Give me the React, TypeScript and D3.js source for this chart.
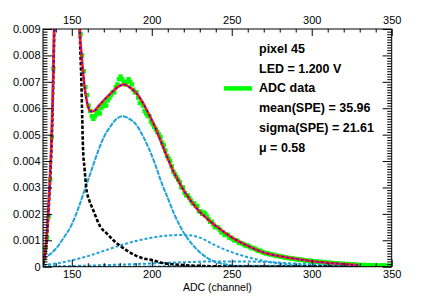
import React, { useEffect, useRef } from "react";
import * as d3 from "d3";

const W = 436, H = 297;
const frame = { left: 43, right: 391.7, top: 29, bottom: 266.7 };

// ADC histogram, 1 channel per bin, first bin starts at channel 132
const binStart = 132;
const adcData = [
  0.0003, 0.0007, 0.0011, 0.0019, 0.0033, 0.0049, 0.0075, 0.012, 0.018, 0.026,
  0.035, 0.044, 0.050, 0.054, 0.055, 0.052, 0.046, 0.038, 0.030, 0.022,
  0.016, 0.011, 0.0096, 0.0088, 0.0080, 0.0074, 0.0068, 0.0065, 0.0061, 0.0059,
  0.0057, 0.0056, 0.0057, 0.0058, 0.0059, 0.0058, 0.0060, 0.0061, 0.0062, 0.0061,
  0.0063, 0.0064, 0.0065, 0.0066, 0.0066, 0.0068, 0.0069, 0.0071, 0.0072, 0.0071,
  0.0070, 0.0069, 0.0070, 0.0071, 0.0070, 0.0069, 0.0067, 0.0066, 0.0066, 0.0064,
  0.0062, 0.0062, 0.0061, 0.0059, 0.0058, 0.0057, 0.0057, 0.0055, 0.0054, 0.0053,
  0.0052, 0.0051, 0.0050, 0.0049, 0.0047, 0.0046, 0.0044, 0.0042, 0.0041, 0.0040,
  0.0038, 0.0036, 0.0035, 0.0034, 0.0033, 0.0032, 0.0030, 0.0030, 0.0028, 0.0027,
  0.0027, 0.0026, 0.0025, 0.0024, 0.0024, 0.0023, 0.0023, 0.0021, 0.0021, 0.0020,
  0.00205, 0.0020, 0.0019, 0.0018, 0.0017, 0.0017, 0.0016, 0.0015, 0.0015, 0.00148,
  0.0014, 0.0013, 0.0013, 0.0012, 0.00122, 0.0012, 0.0011, 0.0011, 0.00105, 0.0010,
  0.0010, 0.00098, 0.0009, 0.0009, 0.00088, 0.00084, 0.0008, 0.00081, 0.00078, 0.00074,
  0.0007, 0.00071, 0.00068, 0.00064, 0.0006, 0.00061, 0.00058, 0.00054, 0.00052, 0.0005,
  0.00051, 0.00048, 0.00046, 0.00045, 0.00044, 0.00042, 0.0004, 0.00041, 0.00038, 0.00038,
  0.00036, 0.00035, 0.00034, 0.00033, 0.00032, 0.0003, 0.00031, 0.00029, 0.00028, 0.00027,
  0.00026, 0.00027, 0.00025, 0.00024, 0.00023, 0.00022, 0.00023, 0.00021, 0.0002, 0.0002,
  0.00019, 0.00019, 0.00018, 0.00017, 0.00018, 0.00016, 0.00016, 0.00015, 0.00015, 0.00014,
  0.00014, 0.00013, 0.00013, 0.00012, 0.00012, 0.00011, 0.00011, 0.0001, 0.0001, 0.0001,
  0.00009, 0.00009, 0.00008, 0.00008, 0.00008, 0.00007, 0.00007, 0.00006, 0.00006, 0.00005,
  0.00007, 0.00004, 0.00006, 0.00005, 0.00004, 0.00006, 0.00003, 0.00005, 0.00004, 0.00005,
  0.00003, 0.00004, 0.00005, 0.00003, 0.00004, 0.00003, 0.00004, 0.00003,
];

// fit curves: [channel, value]
const totalFit: [number, number][] = [
  [132, 0.0002], [133, 0.0004], [134, 0.0009], [135, 0.0018], [136, 0.0029], [137, 0.0043],
  [138, 0.0062], [139, 0.0092], [140, 0.0135], [147, 0.06], [154, 0.0125], [155, 0.009],
  [156, 0.0081], [157, 0.0074], [158, 0.0068], [159, 0.0064], [160, 0.0061], [162, 0.00588],
  [164, 0.0059], [167, 0.0061], [170, 0.0063], [175, 0.0066], [180, 0.00685], [183, 0.0069],
  [186, 0.0068], [190, 0.0066], [194, 0.00625], [198, 0.0058], [202, 0.0053], [206, 0.0047],
  [210, 0.0041], [214, 0.00355], [218, 0.0031], [222, 0.0027], [226, 0.00237], [230, 0.00208],
  [235, 0.0018], [241, 0.0015], [251, 0.00107], [261, 0.00076], [272, 0.0005], [282, 0.00038],
  [293, 0.00027], [303, 0.00019], [313, 0.00013], [320, 0.0001], [329, 0.00006],
];
const pedestal: [number, number][] = [
  [132, 0.0001], [133, 0.0003], [134, 0.0008], [135, 0.0016], [136, 0.0027], [137, 0.004],
  [138, 0.0059], [139, 0.0088], [140, 0.013], [147, 0.06], [154, 0.013], [155, 0.009],
  [156, 0.007], [156.5, 0.0057], [157, 0.0045], [158, 0.0037], [159, 0.003], [161, 0.0025],
  [163, 0.0022], [168, 0.0015], [172, 0.00125], [176, 0.001], [180, 0.0008], [184, 0.00063],
  [190, 0.00042], [195, 0.00031], [201, 0.00024], [206, 0.00015], [212, 0.0001], [220, 0.00006],
  [230, 0.00003], [245, 0.00001], [329, 0],
];
const pe1: [number, number][] = [
  [132, 0.0003], [136, 0.00045], [140, 0.00068], [145, 0.0011], [150, 0.0016], [154, 0.0022],
  [158, 0.0029], [162, 0.0036], [166, 0.0043], [170, 0.0049], [174, 0.0053], [178, 0.0056],
  [182, 0.0057], [186, 0.0056], [190, 0.0054], [194, 0.005], [198, 0.0045], [202, 0.0039],
  [206, 0.0032], [210, 0.0026], [214, 0.002], [218, 0.0015], [222, 0.0011], [226, 0.0008],
  [230, 0.00055], [235, 0.00032], [240, 0.00018], [245, 0.0001], [250, 0.00005], [260, 0.00001],
  [275, 0], [329, 0],
];
const pe2: [number, number][] = [
  [132, 0.00006], [140, 0.00012], [150, 0.00024], [160, 0.0004], [170, 0.0006], [180, 0.0008],
  [190, 0.00097], [200, 0.0011], [210, 0.00118], [218, 0.0012], [225, 0.00118], [230, 0.0011],
  [240, 0.0008], [250, 0.00055], [260, 0.00036], [270, 0.00022], [280, 0.00012], [290, 0.00006],
  [300, 0.00003], [310, 0.00001], [329, 0],
];
const pe3: [number, number][] = [
  [132, 0.00001], [160, 0.00004], [190, 0.0001], [220, 0.00017], [240, 0.0002], [255, 0.0002],
  [270, 0.00018], [290, 0.00012], [310, 0.00007], [329, 0.00004],
];
const pe4: [number, number][] = [
  [132, 0], [200, 0.00001], [250, 0.00003], [290, 0.00004], [329, 0.00003],
];

const xMajor = [150, 200, 250, 300, 350];
const yMajor = [0, 0.001, 0.002, 0.003, 0.004, 0.005, 0.006, 0.007, 0.008, 0.009];
const legendLines = ["pixel 45", "LED = 1.200 V", "ADC data", "mean(SPE) = 35.96", "sigma(SPE) = 21.61", "\u03bc = 0.58"];

const font = "Liberation Sans, Arial, sans-serif";
const lightBlue = "#1ca2d8";

const draw = (node: SVGSVGElement | null) => {
  if (!node) return;
  const svg = d3.select(node);
  svg.selectAll("*").remove();

  const x = d3.scaleLinear().domain([132, 350]).range([frame.left, frame.right]);
  const y = d3.scaleLinear().domain([0, 0.009]).range([frame.bottom, frame.top]);

  svg.append("rect").attr("width", W).attr("height", H).attr("fill", "#fff");

  svg.append("clipPath").attr("id", "plotclip")
    .append("rect")
    .attr("x", frame.left).attr("y", frame.top)
    .attr("width", frame.right - frame.left).attr("height", frame.bottom - frame.top);

  const plot = svg.append("g").attr("clip-path", "url(#plotclip)");

  // data markers (ROOT skips markers above the frame)
  const pts = adcData.map((v, i) => ({ c: binStart + i + 0.5, v })).filter(d => d.v <= 0.009);
  plot.selectAll("rect.pt").data(pts).enter().append("rect")
    .attr("class", "pt")
    .attr("x", d => x(d.c) - 2.2).attr("y", d => y(d.v) - 2.2)
    .attr("width", 4.4).attr("height", 4.4)
    .attr("fill", "#00ff00");

  const line = d3.line<[number, number]>()
    .x(d => x(d[0])).y(d => y(d[1]))
    .curve(d3.curveMonotoneX);

  const curve = (data: [number, number][], color: string, width: number, dash: string | null) => {
    const p = plot.append("path").attr("d", line(data))
      .attr("fill", "none").attr("stroke", color).attr("stroke-width", width);
    if (dash) p.attr("stroke-dasharray", dash);
  };

  curve(pe4, lightBlue, 2, "3,2");
  curve(pe3, lightBlue, 2, "3,2");
  curve(pe2, lightBlue, 2, "3,2");
  curve(pe1, lightBlue, 2, "5,1");
  curve(pedestal, "#000", 2.6, "3.5,1.8");
  curve(totalFit, "#ff1a1a", 2.6, null);
  curve(totalFit, "#1010ff", 1.4, "2,3");

  // axes, ROOT style ticks inside the frame
  const axisFont = (g: d3.Selection<SVGGElement, unknown, null, undefined>) => {
    g.attr("font-family", font).attr("font-size", 11);
    g.select(".domain").remove();
    g.selectAll("line").attr("stroke", "#000");
    g.selectAll("text").attr("fill", "#000");
  };
  const xMinor = d3.range(140, 351, 10).filter(v => !xMajor.includes(v));
  const yMinor = d3.range(0, 91).map(i => i * 0.0001).filter((_, i) => i % 10 !== 0);

  svg.append("g").attr("transform", `translate(0,${frame.bottom})`)
    .call(d3.axisBottom(x).tickValues(xMajor).tickSize(-7).tickPadding(4).tickFormat(d3.format("d")))
    .call(axisFont);
  svg.append("g").attr("transform", `translate(0,${frame.bottom})`)
    .call(d3.axisBottom(x).tickValues(xMinor).tickSize(-3.5).tickFormat(() => ""))
    .call(axisFont);
  svg.append("g").attr("transform", `translate(0,${frame.top})`)
    .call(d3.axisTop(x).tickValues(xMajor).tickSize(-7).tickPadding(5).tickFormat(d3.format("d")))
    .call(axisFont);
  svg.append("g").attr("transform", `translate(0,${frame.top})`)
    .call(d3.axisTop(x).tickValues(xMinor).tickSize(-3.5).tickFormat(() => ""))
    .call(axisFont);

  const yFmt = (d: d3.NumberValue) => (+d === 0 ? "0" : d3.format(".3f")(+d));
  svg.append("g").attr("transform", `translate(${frame.left},0)`)
    .call(d3.axisLeft(y).tickValues(yMajor).tickSize(-9).tickPadding(2.5).tickFormat(yFmt))
    .call(axisFont);
  svg.append("g").attr("transform", `translate(${frame.left},0)`)
    .call(d3.axisLeft(y).tickValues(yMinor).tickSize(-4.5).tickFormat(() => ""))
    .call(axisFont);
  svg.append("g").attr("transform", `translate(${frame.right},0)`)
    .call(d3.axisRight(y).tickValues(yMajor).tickSize(-9).tickFormat(() => ""))
    .call(axisFont);
  svg.append("g").attr("transform", `translate(${frame.right},0)`)
    .call(d3.axisRight(y).tickValues(yMinor).tickSize(-4.5).tickFormat(() => ""))
    .call(axisFont);

  svg.append("rect")
    .attr("x", frame.left).attr("y", frame.top)
    .attr("width", frame.right - frame.left).attr("height", frame.bottom - frame.top)
    .attr("fill", "none").attr("stroke", "#000").attr("stroke-width", 1);

  svg.append("text")
    .attr("x", (frame.left + frame.right) / 2).attr("y", 291)
    .attr("text-anchor", "middle")
    .attr("font-family", font).attr("font-size", 10.5)
    .text("ADC (channel)");

  // legend / fit results
  const leg = svg.append("g").attr("font-family", font).attr("font-size", 12.5).attr("font-weight", "bold");
  legendLines.forEach((t, i) => {
    leg.append("text").attr("x", 259).attr("y", 53 + i * 19.7).text(t);
  });
  leg.append("line")
    .attr("x1", 224).attr("x2", 252).attr("y1", 88.4).attr("y2", 88.4)
    .attr("stroke", "#00ff00").attr("stroke-width", 4.5);
};

const App = () => {
  const ref = useRef<SVGSVGElement>(null);
  useEffect(() => {
    draw(ref.current);
  }, []);
  return <svg ref={ref} width={W} height={H} style={{ position: "absolute", left: 0, top: 0 }} />;
};

export default App;
